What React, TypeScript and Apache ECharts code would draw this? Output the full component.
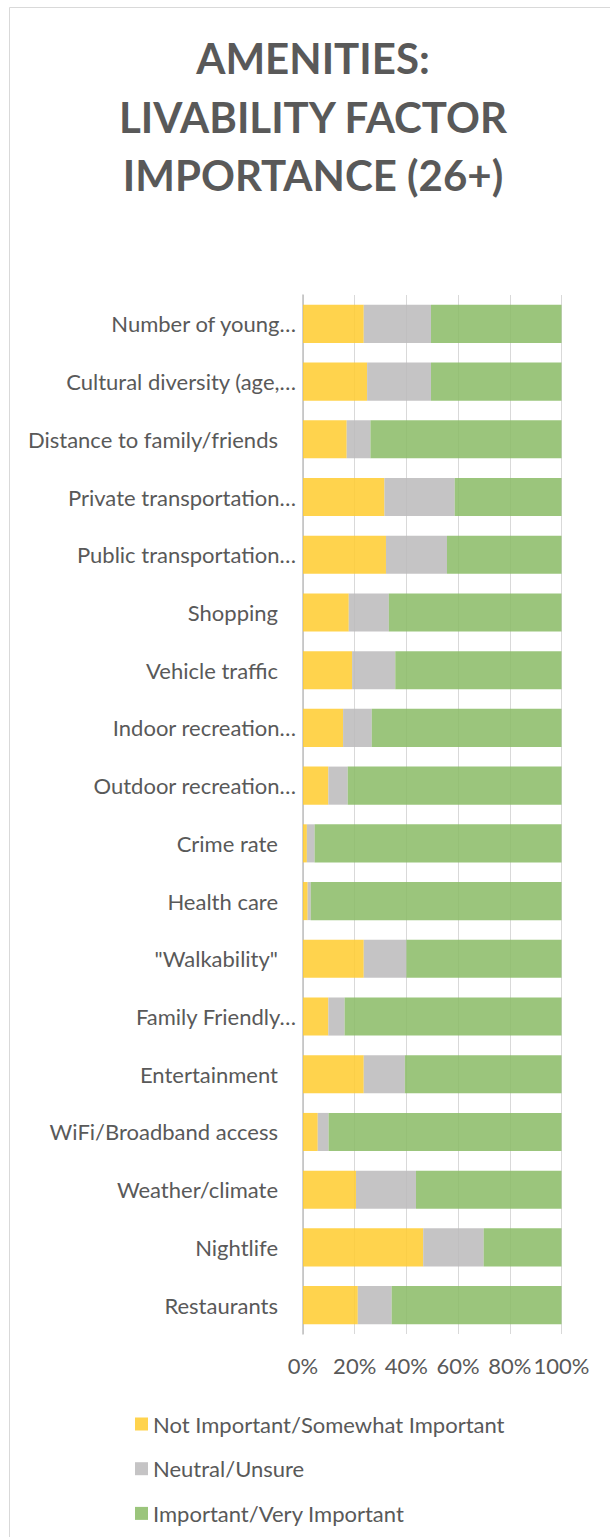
import React, { useEffect, useRef } from "react";
import * as echarts from "echarts";

const categories = [
  "Number of young…",
  "Cultural diversity (age,…",
  "Distance to family/friends",
  "Private transportation…",
  "Public transportation…",
  "Shopping",
  "Vehicle traffic",
  "Indoor recreation…",
  "Outdoor recreation…",
  "Crime rate",
  "Health care",
  "\"Walkability\"",
  "Family Friendly…",
  "Entertainment",
  "WiFi/Broadband access",
  "Weather/climate",
  "Nightlife",
  "Restaurants",
];

const notImportant = [23.5, 24.8, 16.9, 31.5, 32.1, 17.7, 19.0, 15.5, 9.8, 1.5, 1.8, 23.5, 9.8, 23.5, 5.7, 20.5, 46.5, 21.2];
const neutral = [26.0, 24.7, 9.2, 27.2, 23.6, 15.5, 16.7, 11.1, 7.5, 3.0, 1.2, 16.5, 6.3, 15.9, 4.2, 23.2, 23.4, 13.1];
const important = [50.5, 50.5, 73.9, 41.3, 44.3, 66.8, 64.3, 73.4, 82.7, 95.5, 97.0, 60.0, 83.9, 60.6, 90.1, 56.3, 30.1, 65.7];

const seriesNames = [
  "Not Important/Somewhat Important",
  "Neutral/Unsure",
  "Important/Very Important",
];
const xTicks = [0, 20, 40, 60, 80, 100];
const titleLines = ["AMENITIES:", "LIVABILITY FACTOR", "IMPORTANCE (26+)"];

const FONT = "Lato, 'Open Sans', sans-serif";
const TEXT = "#595959";
const COLORS = ["#FFCB2E", "#BBBABB", "#89BB65"];
const BAR_OPACITY = 0.85;
const FS = 22;

export default function App() {
  const ref = useRef<HTMLDivElement>(null);
  useEffect(() => {
    if (!ref.current) return;
    const chart = echarts.init(ref.current, null, { renderer: "svg" });
    const dataSets = [notImportant, neutral, important];
    const option: any = {
      animation: false,
      backgroundColor: "#ffffff",
      textStyle: { fontFamily: FONT },
      graphic: [
        {
          type: "rect",
          silent: true,
          z: -10,
          shape: { x: 9.5, y: 7.5, width: 640, height: 1600 },
          style: { fill: "none", stroke: "#D9D9D9", lineWidth: 1 },
        },
        ...titleLines.map((t, i) => ({
          type: "text",
          x: 313,
          y: 58 + i * 58.5,
          style: {
            text: t,
            textAlign: "center",
            textVerticalAlign: "middle",
            fill: TEXT,
            font: `bold 42px ${FONT}`,
          },
        })),
      ],
      grid: { left: 303, right: 48.5, top: 295, bottom: 203, containLabel: false },
      legend: {
        orient: "vertical",
        left: 130,
        top: 1407,
        itemWidth: 13,
        itemHeight: 13,
        itemGap: 20.7,
        icon: "rect",
        selectedMode: false,
        data: seriesNames,
        textStyle: { color: TEXT, fontFamily: FONT, fontSize: FS, lineHeight: 24 },
      },
      xAxis: {
        type: "value",
        min: xTicks[0],
        max: xTicks[xTicks.length - 1],
        interval: xTicks[1] - xTicks[0],
        axisLine: { show: false },
        axisTick: { show: false },
        splitLine: { show: true, lineStyle: { color: "#D9D9D9", width: 1 } },
        axisLabel: {
          formatter: "{value}%",
          color: TEXT,
          fontFamily: FONT,
          fontSize: FS,
          margin: 20,
        },
      },
      yAxis: {
        type: "category",
        inverse: true,
        data: categories,
        axisTick: { show: false },
        axisLine: { show: true, lineStyle: { color: "#BFBFBF", width: 1.5 } },
        axisLabel: {
          margin: 7,
          color: TEXT,
          fontFamily: FONT,
          fontSize: FS,
          formatter: (v: string) => (v.endsWith("…") ? `{t|${v}}` : `{n|${v}}`),
          rich: {
            t: { color: TEXT, fontFamily: FONT, fontSize: FS },
            n: { color: TEXT, fontFamily: FONT, fontSize: FS, padding: [0, 18, 0, 0] },
          },
        },
      },
      series: seriesNames.map((name, i) => ({
        name,
        type: "bar",
        stack: "total",
        barCategoryGap: "34%",
        data: dataSets[i],
        itemStyle: { color: COLORS[i], opacity: BAR_OPACITY },
      })),
    };
    chart.setOption(option);
    return () => chart.dispose();
  }, []);
  return (
    <div
      ref={ref}
      style={{ position: "absolute", left: 0, top: 0, width: 610, height: 1537 }}
    />
  );
}
